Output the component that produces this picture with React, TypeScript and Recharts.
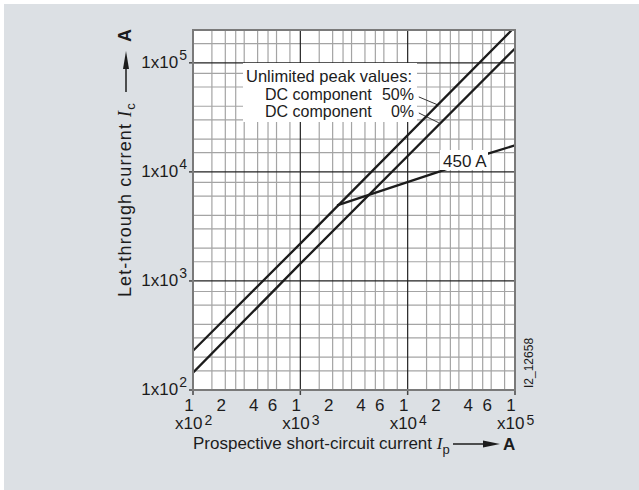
import { CartesianGrid, ComposedChart, Line, ReferenceLine, XAxis, YAxis } from "recharts";

// values (prospective current Ip -> let-through current Ic, both in A)
const dc50 = [
  { ip: 100, ic: 229 },
  { ip: 1000, ic: 2200 },
  { ip: 93300, ic: 200000 },
];
const dc0 = [
  { ip: 100, ic: 144 },
  { ip: 1000, ic: 1440 },
  { ip: 100000, ic: 135500 },
];
const fuse450 = [
  { ip: 2200, ic: 4930 },
  { ip: 20000, ic: 10100 },
  { ip: 56100, ic: 14700 },
  { ip: 100000, ic: 17500 },
];

const xTicks = [100, 200, 400, 600, 1000, 2000, 4000, 6000, 10000, 20000, 40000, 60000, 100000];
const yTicks = [100, 1000, 10000, 100000];
const xMinor = [
  150, 200, 250, 300, 400, 500, 600, 800, 1500, 2000, 2500, 3000, 4000, 5000, 6000, 8000, 15000, 20000,
  25000, 30000, 40000, 50000, 60000, 80000,
];
const yMinor = [
  150, 200, 300, 400, 600, 800, 1500, 2000, 3000, 4000, 6000, 8000, 15000, 20000, 30000, 40000, 60000,
  80000, 150000,
];
const xDecades = [1000, 10000];
const yDecades = [1000, 10000, 100000];

const FONT = "'Liberation Sans', Arial, Helvetica, sans-serif";
const INK = "#1c1c1c";

function split(v: number) {
  const exp = Math.floor(Math.log10(v) + 1e-9);
  return { exp, mant: Math.round(v / Math.pow(10, exp)) };
}

function XTick({ x, y, payload }: any) {
  const { exp, mant } = split(payload.value);
  const decade = mant === 1;
  return (
    <g fontFamily={FONT} fill={INK}>
      {decade && <line x1={x} x2={x} y1={y} y2={y + 5} stroke="#444" strokeWidth={1.5} />}
      <text x={x - 4} y={y + 21} textAnchor="middle" fontSize={17}>
        {mant}
      </text>
      {decade && (
        <text x={x - 18} y={y + 39} fontSize={17}>
          x10
          <tspan dx={2} dy={-4} fontSize={14}>
            {exp}
          </tspan>
        </text>
      )}
    </g>
  );
}

function YTick({ x, y, payload }: any) {
  const { exp } = split(payload.value);
  return (
    <g fontFamily={FONT} fill={INK}>
      <line x1={x - 4} x2={x} y1={y} y2={y} stroke="#444" strokeWidth={1.5} />
      <text x={x - 6} y={y + 5} textAnchor="end" fontSize={17}>
        1x10
        <tspan dx={1} dy={-8} fontSize={14}>
          {exp}
        </tspan>
      </text>
    </g>
  );
}

export default function App() {
  return (
    <div style={{ position: "absolute", left: 0, top: 0, width: 639, height: 490, background: "#fff" }}>
      <div style={{ position: "absolute", left: 4, top: 4, right: 0, bottom: 0, background: "#dce0e4" }} />
      <div style={{ position: "absolute", left: 0, top: 0 }}>
        <ComposedChart width={639} height={490} margin={{ top: 30, right: 124, bottom: 40, left: 113 }}>
          <CartesianGrid
            fill="#fff"
            stroke="#a4a4a4"
            strokeWidth={1.2}
            verticalValues={xMinor}
            horizontalValues={yMinor}
          />
          <CartesianGrid stroke="#222" strokeWidth={1.2} verticalValues={xDecades} horizontalValues={yDecades} />
          <XAxis
            dataKey="ip"
            type="number"
            scale="log"
            domain={[100, 100000]}
            allowDataOverflow
            ticks={xTicks}
            interval={0}
            height={60}
            tickSize={0}
            tickMargin={0}
            axisLine={false}
            tick={<XTick />}
          />
          <YAxis
            dataKey="ic"
            type="number"
            scale="log"
            domain={[100, 200000]}
            allowDataOverflow
            ticks={yTicks}
            interval={0}
            width={80}
            tickSize={0}
            tickMargin={0}
            axisLine={false}
            tick={<YTick />}
          />
          <ReferenceLine
            segment={[
              { x: 12700, y: 48700 },
              { x: 19000, y: 41200 },
            ]}
            stroke="#333"
            strokeWidth={1}
          />
          <ReferenceLine
            segment={[
              { x: 12700, y: 34700 },
              { x: 19500, y: 28200 },
            ]}
            stroke="#333"
            strokeWidth={1}
          />
          <Line data={dc50} dataKey="ic" stroke={INK} strokeWidth={2.3} dot={false} activeDot={false} isAnimationActive={false} />
          <Line data={dc0} dataKey="ic" stroke={INK} strokeWidth={2.3} dot={false} activeDot={false} isAnimationActive={false} />
          <Line data={fuse450} dataKey="ic" stroke={INK} strokeWidth={2.3} dot={false} activeDot={false} isAnimationActive={false} />
        </ComposedChart>
      </div>
      <svg width={639} height={490} style={{ position: "absolute", left: 0, top: 0 }} fontFamily={FONT} fill={INK}>
        <rect x={193} y={30} width={322} height={360} fill="none" stroke="#7a7a7a" strokeWidth={2} />
        <rect x={243} y={63} width={174} height={59} fill="#fff" />
        <text x={246} y={82} fontSize={16.5}>Unlimited peak values:</text>
        <text x={265} y={99.5} fontSize={16}>DC component</text>
        <text x={414} y={99.5} fontSize={16} textAnchor="end">50%</text>
        <text x={265} y={117} fontSize={16}>DC component</text>
        <text x={414} y={117} fontSize={16} textAnchor="end">0%</text>
        <rect x={440} y={150} width={48} height={20} fill="#fff" />
        <text x={443} y={167} fontSize={17}>450 A</text>
        <g transform="translate(533,388) rotate(-90)">
          <text x={0} y={0} fontSize={12}>I2_12658</text>
        </g>
        <g transform="translate(131,297) rotate(-90)">
          <text x={0} y={0} fontSize={18} style={{ letterSpacing: "1.1px" }}>
            Let-through current{" "}
            <tspan fontFamily="'Liberation Serif', serif" fontStyle="italic">I</tspan>
            <tspan fontSize={13} dy={4}>c</tspan>
          </text>
          <line x1={205} x2={230} y1={-5} y2={-5} stroke={INK} strokeWidth={1.5} />
          <polygon points="228,-8 246,-5 228,-2" />
          <text x={255} y={0} fontSize={18} fontWeight="bold">A</text>
        </g>
        <text x={193} y={449} fontSize={17}>
          Prospective short-circuit current{" "}
          <tspan fontFamily="'Liberation Serif', serif" fontStyle="italic">I</tspan>
          <tspan fontSize={13} dy={5}>p</tspan>
        </text>
        <line x1={453} x2={486} y1={444} y2={444} stroke={INK} strokeWidth={1.5} />
        <polygon points="483,440.5 500,444 483,447.5" />
        <text x={503} y={450} fontSize={17} fontWeight="bold">A</text>
      </svg>
    </div>
  );
}
